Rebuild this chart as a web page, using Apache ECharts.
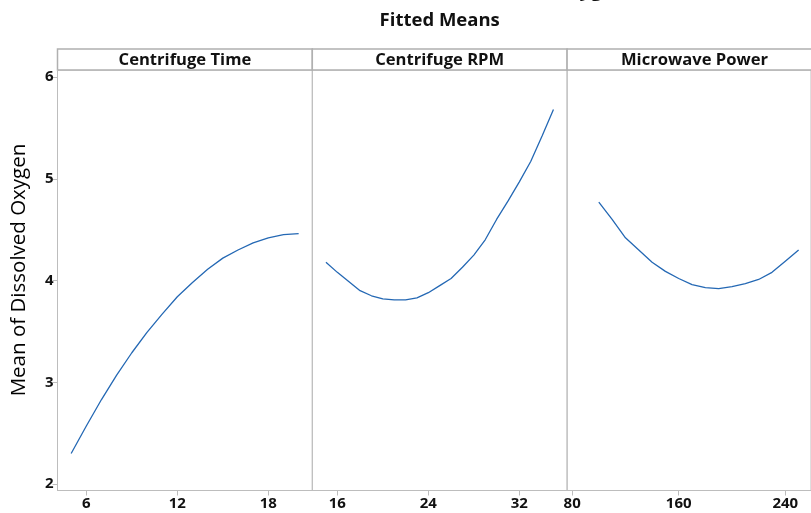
<!DOCTYPE html>
<html><head><meta charset="utf-8">
<script src="https://cdn.jsdelivr.net/npm/echarts@6/dist/echarts.min.js"></script>
<style>html,body{margin:0;padding:0;background:#fff;overflow:hidden}#c{width:811px;height:513px}</style>
</head><body><div id="c"></div>
<script>
// ---- data ----
const mainTitle = 'Main Effects Plot for Dissolved Oxygen';
const subTitle = 'Fitted Means';
const yAxisTitle = 'Mean of Dissolved Oxygen';
const panelNames = ['Centrifuge Time', 'Centrifuge RPM', 'Microwave Power'];

const timeLevels = [5, 6, 7, 8, 9, 10, 11, 12, 13, 14, 15, 16, 17, 18, 19, 20];
const timeMeans  = [2.30, 2.57, 2.83, 3.07, 3.29, 3.49, 3.67, 3.84, 3.98, 4.11, 4.22, 4.30, 4.37, 4.42, 4.45, 4.46];

const rpmLevels = [15, 16, 17, 18, 19, 20, 21, 22, 23, 24, 25, 26, 27, 28, 29, 30, 31, 32, 33, 34, 35];
const rpmMeans  = [4.18, 4.08, 3.99, 3.90, 3.85, 3.82, 3.81, 3.81, 3.83, 3.88, 3.95, 4.02, 4.13, 4.25, 4.40, 4.60, 4.78, 4.97, 5.17, 5.42, 5.68];

const powerLevels = [100, 110, 120, 130, 140, 150, 160, 170, 180, 190, 200, 210, 220, 230, 240, 250];
const powerMeans  = [4.77, 4.60, 4.42, 4.30, 4.18, 4.09, 4.02, 3.96, 3.93, 3.92, 3.94, 3.97, 4.01, 4.08, 4.19, 4.30];

const timeTicks  = [6, 12, 18];
const rpmTicks   = [16, 24, 32];
const powerTicks = [80, 160, 240];
const yTicks     = [2, 3, 4, 5, 6];

// ---- layout ----
const L = 57.5, PW = 254.8, T = 70, B = 490.5, HT = 49;
const xRanges = [[4.1, 20.9], [13.8, 36.2], [76.2, 259.3]];
const yRange = [1.936, 6.069];
const FONT = 'Open Sans';
const GRAY = '#bdbdbd';
const BLUE = '#2468b4';

const levels = [timeLevels, rpmLevels, powerLevels];
const means = [timeMeans, rpmMeans, powerMeans];
const ticks = [timeTicks, rpmTicks, powerTicks];

const grids = [], xAxes = [], yAxes = [], series = [], graphics = [];
for (let i = 0; i < 3; i++) {
  grids.push({left: L + i * PW, top: T, width: PW, height: B - T, show: true,
    borderColor: GRAY, borderWidth: 1, backgroundColor: 'transparent', containLabel: false});
  xAxes.push({type: 'value', gridIndex: i, min: xRanges[i][0], max: xRanges[i][1],
    axisLine: {show: true, lineStyle: {color: GRAY, width: 1}},
    axisTick: {show: true, customValues: ticks[i], length: 5, lineStyle: {color: GRAY}},
    axisLabel: {show: true, customValues: ticks[i], margin: 6, color: '#111', fontFamily: FONT, fontWeight: 'bold', fontSize: 15},
    splitLine: {show: false}});
  yAxes.push({type: 'value', gridIndex: i, min: yRange[0], max: yRange[1],
    axisLine: {show: i === 0, lineStyle: {color: GRAY, width: 1}},
    axisTick: {show: i === 0, customValues: yTicks, length: 5, lineStyle: {color: GRAY}},
    axisLabel: {show: i === 0, customValues: yTicks, margin: 4, color: '#111', fontFamily: FONT, fontWeight: 'bold', fontSize: 15},
    splitLine: {show: false}});
  series.push({type: 'line', xAxisIndex: i, yAxisIndex: i, symbol: 'none', smooth: false,
    lineStyle: {color: BLUE, width: 1.3}, silent: true,
    data: levels[i].map((v, k) => [v, means[i][k]])});
  graphics.push({type: 'rect', shape: {x: L + i * PW, y: HT, width: PW, height: T - HT},
    style: {fill: '#fff', stroke: '#b0b0b0', lineWidth: 1.5}});
  graphics.push({type: 'text', x: L + i * PW + PW / 2, y: (HT + T) / 2 + 0.5,
    style: {text: panelNames[i], fill: '#111', font: `bold 16.6px "${FONT}"`, align: 'center', verticalAlign: 'middle'}});
}
const cx = L + 1.5 * PW;
graphics.push({type: 'text', x: cx - 4, y: -10, style: {text: mainTitle, fill: '#111', font: `bold 20px "${FONT}"`, align: 'center', verticalAlign: 'middle'}});
graphics.push({type: 'text', x: cx, y: 21, style: {text: subTitle, fill: '#111', font: `bold 18.5px "${FONT}"`, align: 'center', verticalAlign: 'middle'}});
graphics.push({type: 'text', x: 19, y: 270, rotation: Math.PI / 2,
  style: {text: yAxisTitle, fill: '#000', font: `20.5px "${FONT}"`, align: 'center', verticalAlign: 'middle'}});

const chart = echarts.init(document.getElementById('c'), null, {renderer: 'canvas'});
chart.setOption({animation: false, backgroundColor: '#fff', grid: grids, xAxis: xAxes, yAxis: yAxes, series: series, graphic: graphics});
</script></body></html>
